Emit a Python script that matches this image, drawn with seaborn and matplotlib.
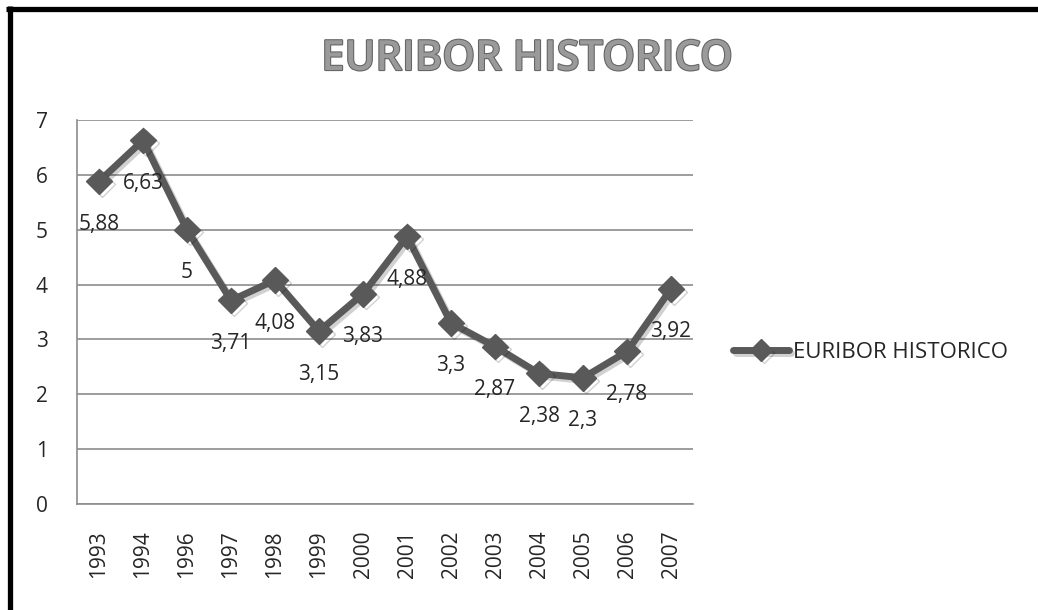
import matplotlib
matplotlib.use('Agg')
import matplotlib.pyplot as plt
import seaborn as sns
import pandas as pd
from matplotlib import patheffects as pe
from matplotlib.lines import Line2D

years = ['1993', '1994', '1996', '1997', '1998', '1999', '2000',
         '2001', '2002', '2003', '2004', '2005', '2006', '2007']
values = [5.88, 6.63, 5, 3.71, 4.08, 3.15, 3.83, 4.88, 3.3, 2.87, 2.38, 2.3, 2.78, 3.92]
value_labels = ['5,88', '6,63', '5', '3,71', '4,08', '3,15', '3,83', '4,88',
                '3,3', '2,87', '2,38', '2,3', '2,78', '3,92']
series_name = 'EURIBOR HISTORICO'
title = 'EURIBOR HISTORICO'
yticks = [0, 1, 2, 3, 4, 5, 6, 7]

sns.set_theme(style='white')
plt.rcParams['font.family'] = ['Open Sans', 'DejaVu Sans']

W, H = 1038, 610
df = pd.DataFrame({'year': years, 'value': values})

fig = plt.figure(figsize=(W / 100, H / 100), dpi=100)
fig.patch.set_facecolor('white')
ax = fig.add_axes([77 / W, 1 - 504 / H, (693 - 77) / W, (504 - 120) / H])

line_color = '#595959'
sns.lineplot(data=df, x='year', y='value', sort=False, ax=ax, color=line_color,
             marker='D', markersize=13, markeredgecolor=line_color,
             markeredgewidth=1, linewidth=5, label=series_name, zorder=3)

for ln in ax.get_lines():
    ln.set_path_effects([pe.SimpleLineShadow(offset=(2, -2), shadow_color='#000000', alpha=0.18),
                         pe.Normal()])

for i, (v, t) in enumerate(zip(values, value_labels)):
    ax.annotate(t, (i, v), xytext=(0, -43), textcoords='offset pixels',
                ha='center', va='center', fontsize=15, color='#262626', zorder=4)

ax.set_xlim(-0.5, len(years) - 0.5)
ax.set_ylim(0, 7)
ax.set_yticks(yticks)
ax.set_yticklabels([str(t) for t in yticks])
ax.set_xlabel('')
ax.set_ylabel('')
ax.tick_params(axis='y', length=0, pad=21, labelsize=15, labelcolor='#262626')
ax.tick_params(axis='x', length=0, pad=19, labelsize=15, labelcolor='#262626', labelrotation=90)

ax.yaxis.grid(True, color='#8c8c8c', linewidth=1.2, zorder=0)
ax.xaxis.grid(False)
ax.set_axisbelow(True)
for s in ['top', 'right']:
    ax.spines[s].set_visible(False)
for s in ['left', 'bottom']:
    ax.spines[s].set_color('#8c8c8c')
    ax.spines[s].set_linewidth(1.2)

leg = ax.legend(loc='center left', bbox_to_anchor=(733 / W, 1 - 352 / H),
                bbox_transform=fig.transFigure, frameon=False, fontsize=16,
                borderpad=0, borderaxespad=0, handlelength=2.5, handletextpad=0.2,
                labelcolor='#262626')
for h in leg.legend_handles:
    h.set_markersize(11)

fig.text(527 / W, 1 - 59 / H, title, ha='center', va='center', fontsize=30,
         fontweight='semibold', color='#9a9a9a',
         path_effects=[pe.withStroke(linewidth=1.6, foreground='#666666')])

fig.add_artist(Line2D([6 / W, 1], [1 - 9 / H, 1 - 9 / H], transform=fig.transFigure,
                      color='black', linewidth=3.8, solid_capstyle='butt'))
fig.add_artist(Line2D([10 / W, 10 / W], [0, 1 - 6 / H], transform=fig.transFigure,
                      color='black', linewidth=3.8, solid_capstyle='butt'))

fig.savefig('out.png', dpi=100)
